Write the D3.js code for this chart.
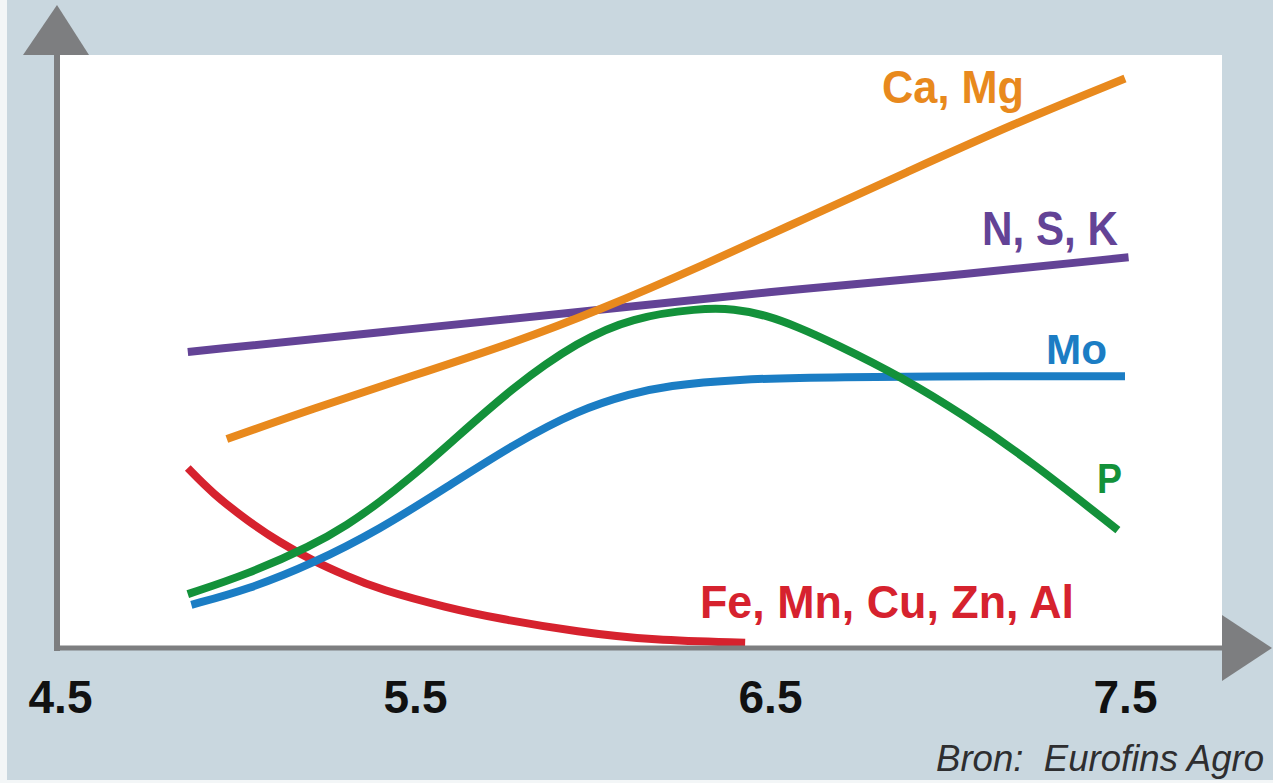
<!DOCTYPE html>
<html>
<head>
<meta charset="utf-8">
<script src="https://cdn.jsdelivr.net/npm/d3@7"></script>
<style>
html,body{margin:0;padding:0;background:#ffffff;}
svg{display:block;}
</style>
</head>
<body>
<svg id="chart" width="1273" height="783"></svg>
<script>
// ---------- data ----------
const tickValues = [4.5, 5.5, 6.5, 7.5];
const tickLabels = ["4.5", "5.5", "6.5", "7.5"];
const seriesNames = ["N, S, K", "Ca, Mg", "Fe, Mn, Cu, Zn, Al", "Mo", "P"];
const seriesColors = ["#634396", "#e8891d", "#d6222e", "#1b7dc4", "#13913a"];
// [pH, relative availability 0-100]
const nsk = [[4.86,50.0],[5.46,53.7],[6.02,57.1],[6.50,60.2],[6.96,62.6],[7.51,66.0]];
const caMg = [[4.97,35.3],[5.21,40.4],[5.49,45.9],[5.78,51.6],[6.02,57.1],[6.31,64.6],[6.60,72.6],[6.89,80.5],[7.18,88.4],[7.50,96.2]];
const feMnCuZnAl = [[4.86,30.4],[4.93,26.1],[5.03,21.4],[5.12,17.8],[5.21,14.8],[5.31,12.1],[5.40,9.9],[5.59,6.8],[5.74,4.9],[5.96,2.7],[6.17,1.3],[6.43,0.9]];
const mo = [[4.87,7.3],[5.03,9.9],[5.21,14.2],[5.40,20.0],[5.59,27.2],[5.78,34.5],[5.96,40.2],[6.11,43.0],[6.21,44.3],[6.40,45.4],[6.68,45.8],[7.15,45.9],[7.50,45.9]];
const p = [[4.86,9.1],[5.03,12.5],[5.21,17.3],[5.31,20.8],[5.40,24.6],[5.49,28.9],[5.59,34.1],[5.78,44.3],[5.96,51.8],[6.11,55.8],[6.30,57.4],[6.40,57.3],[6.49,56.2],[6.58,54.2],[6.68,51.5],[6.87,45.8],[7.05,39.2],[7.24,31.3],[7.48,19.9]];
const seriesData = [nsk, caMg, feMnCuZnAl, mo, p];
const sourceText = "Bron:  Eurofins Agro";

// ---------- layout ----------
const W = 1273, H = 783;
const plot = {left: 57, right: 1222, top: 55, bottom: 648};
const svg = d3.select("#chart");

const x = d3.scaleLinear().domain([4.5, 7.5]).range([60, 1125]);
const y = d3.scaleLinear().domain([0, 100]).range([plot.bottom, plot.top + 1]);

// backgrounds
svg.append("rect").attr("x", 0).attr("y", 0).attr("width", W).attr("height", H).attr("fill", "#f3f6f7");
svg.append("rect").attr("x", 7).attr("y", 0).attr("width", W - 7).attr("height", H - 3).attr("fill", "#c9d7df");
svg.append("rect").attr("x", plot.left).attr("y", plot.top)
  .attr("width", plot.right - plot.left).attr("height", plot.bottom - plot.top).attr("fill", "#ffffff");

// lines
const line = d3.line().x(d => x(d[0])).y(d => y(d[1])).curve(d3.curveBasis);
svg.append("g").selectAll("path").data(seriesData).join("path")
  .attr("d", d => line(d))
  .attr("fill", "none")
  .attr("stroke", (d, i) => seriesColors[i])
  .attr("stroke-width", 8)
  .attr("stroke-linecap", "butt")
  .attr("stroke-linejoin", "round");

// axes
const axisColor = "#7d7e80";
svg.append("line").attr("x1", plot.left).attr("x2", plot.left).attr("y1", plot.top).attr("y2", plot.bottom + 3)
  .attr("stroke", axisColor).attr("stroke-width", 6);
svg.append("line").attr("x1", plot.left - 3).attr("x2", plot.right).attr("y1", plot.bottom).attr("y2", plot.bottom)
  .attr("stroke", axisColor).attr("stroke-width", 5);
svg.append("path").attr("d", `M23,${plot.top}L89,${plot.top}L57,5Z`).attr("fill", axisColor);
svg.append("path").attr("d", `M${plot.right},615L${plot.right},681L1272,648Z`).attr("fill", axisColor);

const xAxis = d3.axisBottom(x).tickValues(tickValues)
  .tickFormat((d, i) => tickLabels[i]).tickSize(0);
const gx = svg.append("g").attr("transform", `translate(0,${plot.bottom})`).call(xAxis);
gx.select(".domain").remove();
gx.selectAll("text")
  .attr("y", 65).attr("dy", 0)
  .attr("fill", "#111111")
  .style("font-family", "'Liberation Sans', Arial, sans-serif")
  .style("font-weight", "bold")
  .style("font-size", "46px");

// series labels (layout only)
const labelLayout = {
  "Ca, Mg": {x: 1024, y: 103, w: 142, size: 46},
  "N, S, K": {x: 1118, y: 245, w: 136, size: 48},
  "Mo": {x: 1107, y: 364, w: 61, size: 42},
  "P": {x: 1122, y: 493, w: 25, size: 43},
  "Fe, Mn, Cu, Zn, Al": {x: 1074, y: 618, w: 374, size: 46}
};
svg.append("g").selectAll("text").data(seriesNames).join("text")
  .attr("x", d => labelLayout[d].x)
  .attr("y", d => labelLayout[d].y)
  .attr("text-anchor", "end")
  .attr("textLength", d => labelLayout[d].w)
  .attr("lengthAdjust", "spacingAndGlyphs")
  .attr("fill", (d, i) => seriesColors[i])
  .style("font-family", "'Liberation Sans Narrow', 'Liberation Sans', Arial, sans-serif")
  .style("font-weight", "bold")
  .style("font-size", d => labelLayout[d].size + "px")
  .text(d => d);

// source
svg.append("text")
  .attr("x", 1264).attr("y", 771)
  .attr("text-anchor", "end")
  .attr("textLength", 328)
  .attr("lengthAdjust", "spacingAndGlyphs")
  .attr("fill", "#2e2e30")
  .style("white-space", "pre")
  .style("font-family", "'Liberation Sans Narrow', 'Liberation Sans', Arial, sans-serif")
  .style("font-style", "italic")
  .style("font-size", "37px")
  .text(sourceText);
</script>
</body>
</html>
